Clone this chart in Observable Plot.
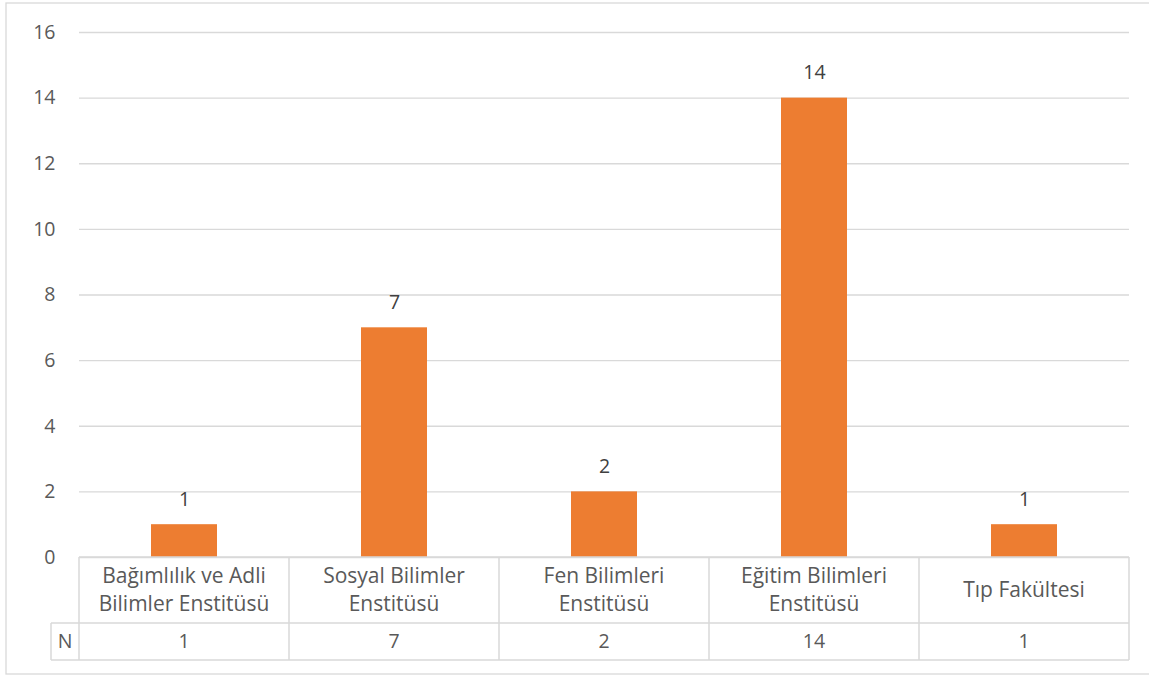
<!DOCTYPE html>
<html>
<head>
<meta charset="utf-8">
<script src="https://cdn.jsdelivr.net/npm/d3@7"></script>
<script src="https://cdn.jsdelivr.net/npm/@observablehq/plot@0.6"></script>
<style>
  html, body { margin: 0; padding: 0; background: #fff; }
  #chart svg { display: block; }
</style>
</head>
<body>
<div id="chart"></div>
<script>
const categories = [
  "Bağımlılık ve Adli\nBilimler Enstitüsü",
  "Sosyal Bilimler\nEnstitüsü",
  "Fen Bilimleri\nEnstitüsü",
  "Eğitim Bilimleri\nEnstitüsü",
  "Tıp Fakültesi"
];
const values = [1, 7, 2, 14, 1];
const seriesName = "N";
const yTicks = [0, 2, 4, 6, 8, 10, 12, 14, 16];

const data = categories.map((c, i) => ({category: c, value: values[i]}));

const W = 1149, H = 675;
const FONT = "'Open Sans', sans-serif";
const FS = 19.5;
const FS_CAT = 21;
const TXT = "#595959";
const GRID = "#D9D9D9";

const plot = Plot.plot({
  width: W,
  height: H,
  marginLeft: 79,
  marginRight: 20,
  marginTop: 32,
  marginBottom: 118,
  style: {fontFamily: FONT, fontSize: FS + "px", color: TXT, background: "#fff"},
  x: {domain: categories, padding: 0, axis: null},
  y: {domain: [0, 16], ticks: yTicks, tickSize: 0, tickPadding: 24, label: null, grid: false},
  marks: [
    Plot.gridY(yTicks, {stroke: GRID, strokeOpacity: 1, strokeWidth: 1.3}),
    Plot.axisY(yTicks, {tickSize: 0, tickPadding: 24, label: null, fontSize: FS, fill: TXT}),
    Plot.barY(data, {x: "category", y: "value", fill: "#ED7D31", insetLeft: 72, insetRight: 72}),
    Plot.text(data, {x: "category", y: "value", text: d => String(d.value), dy: -25, fontSize: FS, fill: "#404040"})
  ]
});

const svg = d3.select(plot);
const xs = plot.scale("x");
const left = xs.range[0], right = xs.range[1];
const bw = xs.bandwidth;
const yTop = 557, yMid = 623, yBot = 660, nLeft = 51;

const g = svg.append("g").attr("fill", "none").attr("stroke", GRID).attr("stroke-width", 1.5);
// outer chart border
g.append("rect").attr("x", 6).attr("y", 3).attr("width", W + 10 - 6).attr("height", 674 - 3).attr("stroke-width", 1.3);
// table lines
g.append("line").attr("x1", left).attr("x2", right).attr("y1", yTop).attr("y2", yTop);
g.append("line").attr("x1", nLeft).attr("x2", right).attr("y1", yMid).attr("y2", yMid);
g.append("line").attr("x1", nLeft).attr("x2", right).attr("y1", yBot).attr("y2", yBot);
g.append("line").attr("x1", nLeft).attr("x2", nLeft).attr("y1", yMid).attr("y2", yBot);
g.append("line").attr("x1", left).attr("x2", left).attr("y1", yTop).attr("y2", yBot);
categories.forEach(c => {
  const x = xs.apply(c) + bw;
  g.append("line").attr("x1", x).attr("x2", x).attr("y1", yTop).attr("y2", yBot);
});

const t = svg.append("g").attr("font-family", FONT).attr("fill", TXT).attr("text-anchor", "middle");
categories.forEach((c, i) => {
  const cx = xs.apply(c) + bw / 2;
  const lines = c.split("\n");
  const cy = (yTop + yMid) / 2;
  const lh = 28;
  lines.forEach((ln, j) => {
    t.append("text").attr("x", cx).attr("y", cy + (j - (lines.length - 1) / 2) * lh)
      .attr("dy", "0.35em").attr("font-size", FS_CAT).text(ln);
  });
  t.append("text").attr("x", cx).attr("y", (yMid + yBot) / 2).attr("dy", "0.35em")
    .attr("font-size", FS).text(String(values[i]));
});
t.append("text").attr("x", (nLeft + left) / 2).attr("y", (yMid + yBot) / 2).attr("dy", "0.35em")
  .attr("font-size", FS).text(seriesName);

document.getElementById("chart").appendChild(plot);
</script>
</body>
</html>
